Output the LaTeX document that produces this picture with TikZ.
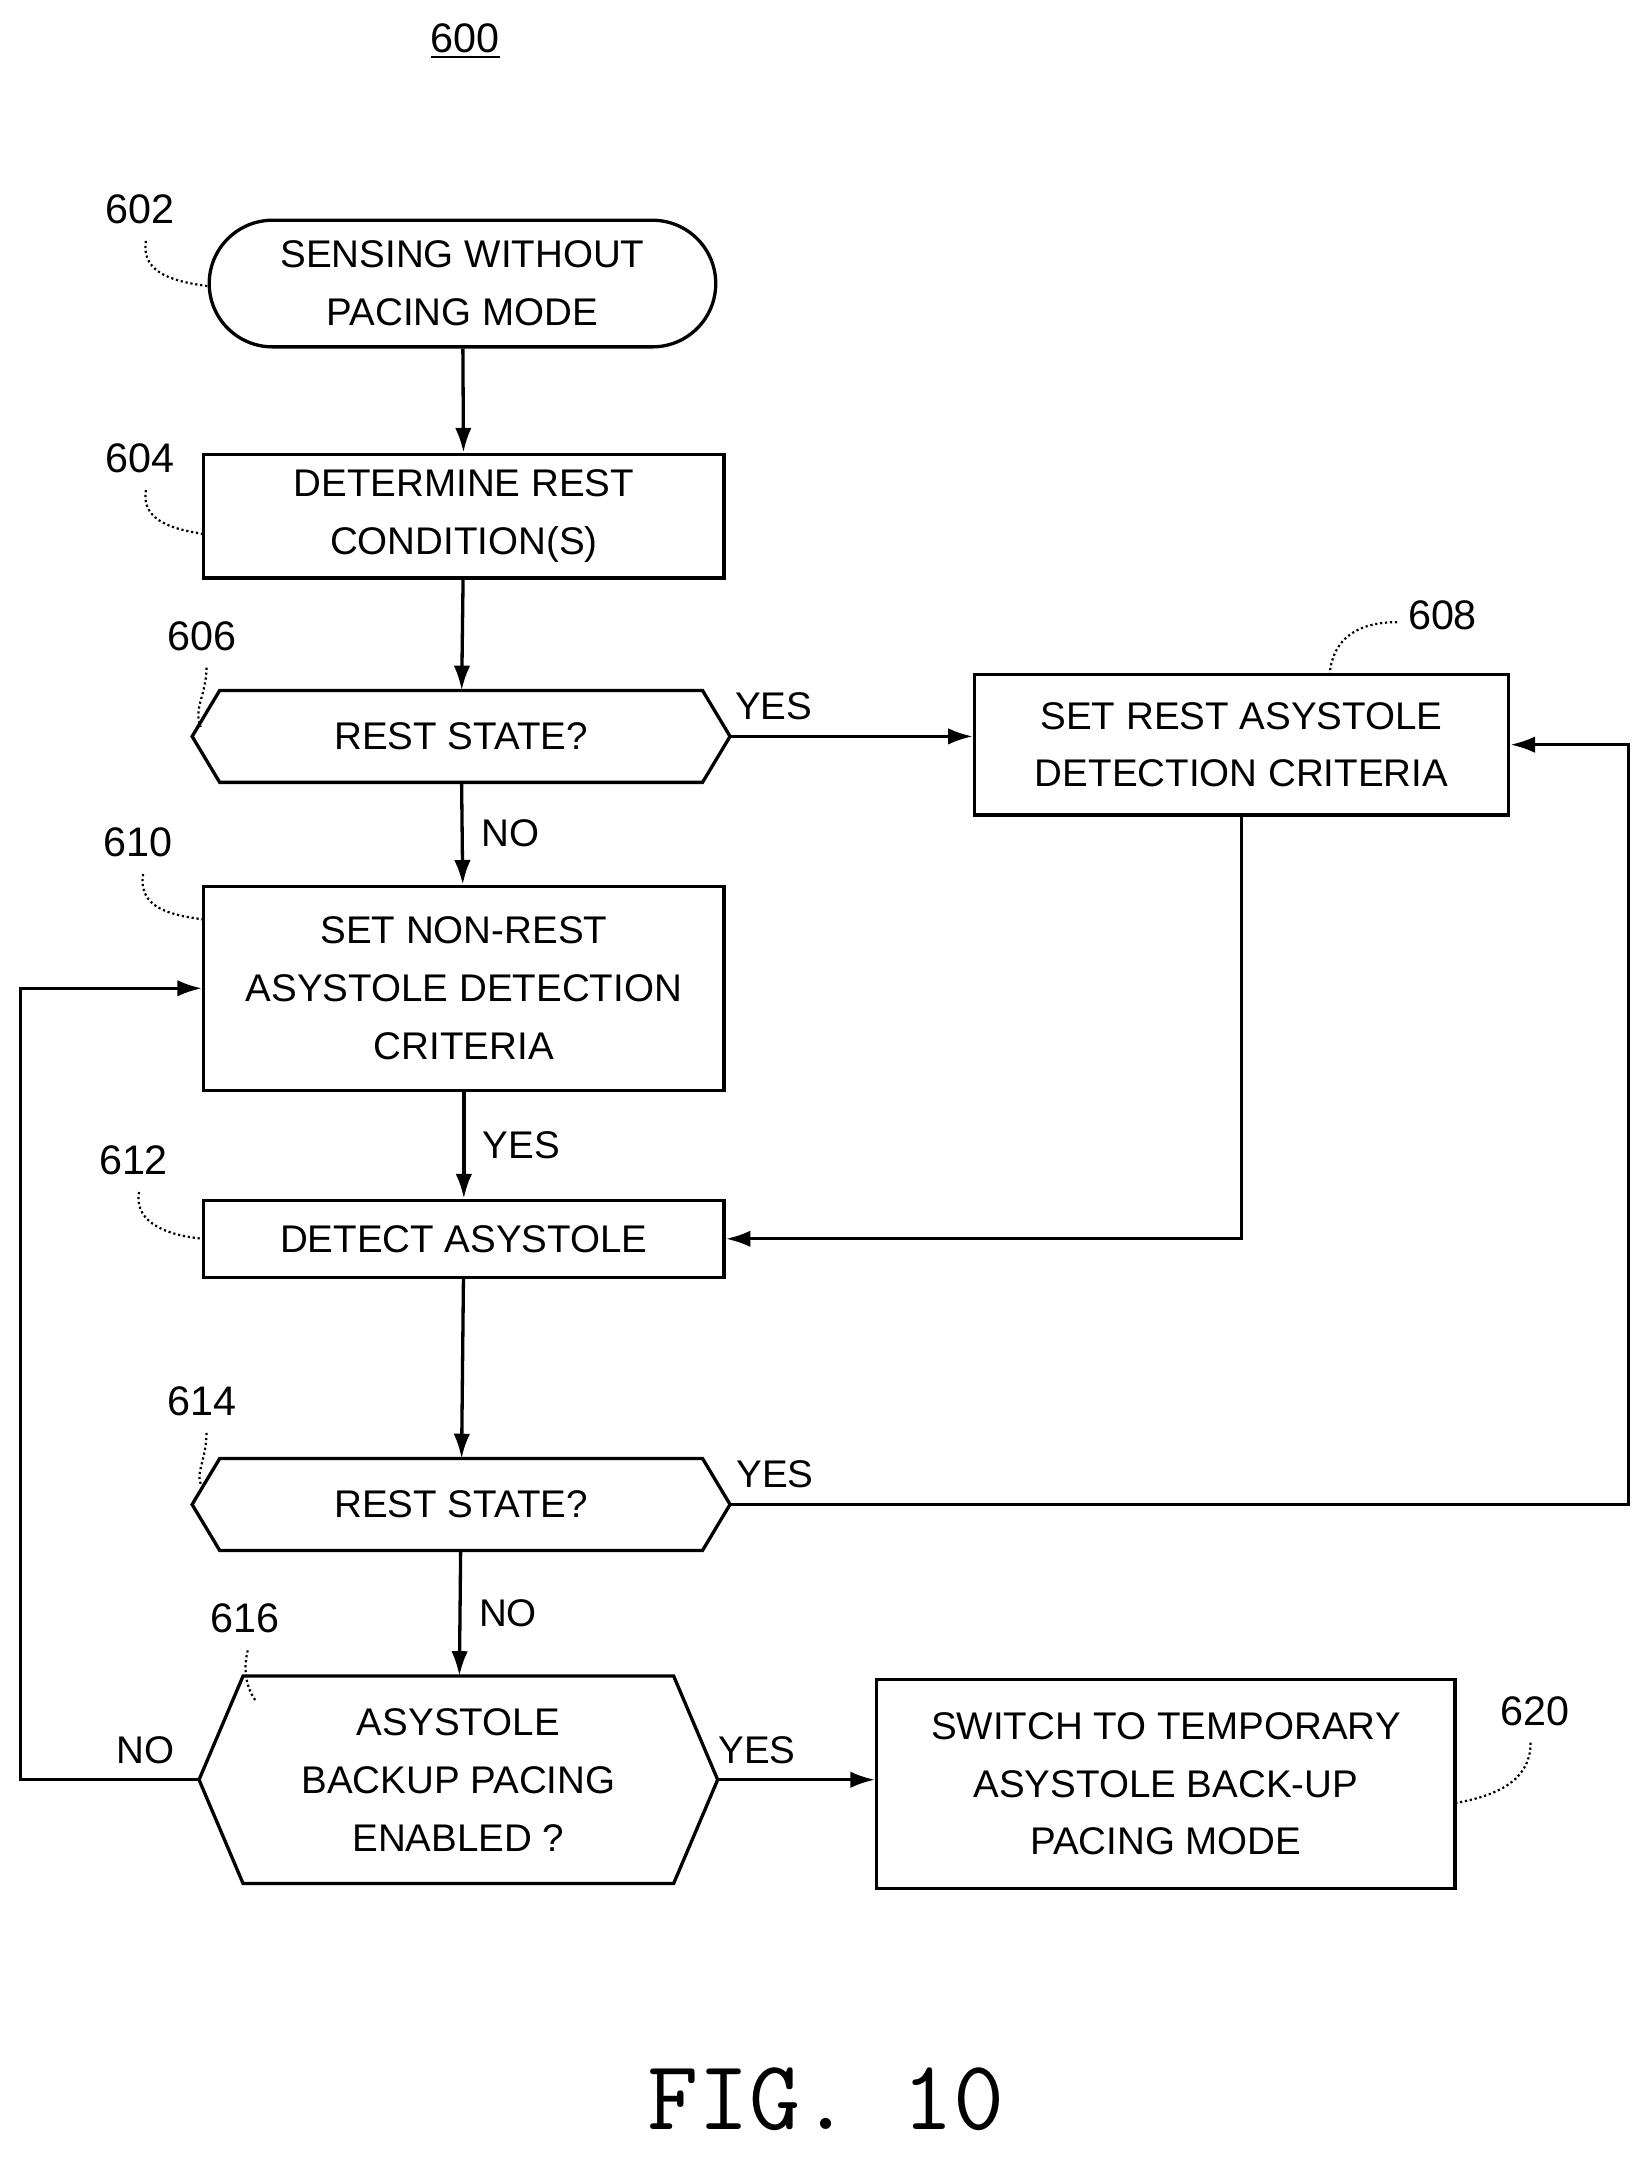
\documentclass[tikz,border=0pt]{standalone}
\usepackage{fontspec}
\setmainfont{Liberation Sans}
\usetikzlibrary{positioning}

\tikzset{
  box/.style={draw, line width=1.2pt, rectangle, align=center, inner sep=0pt},
  term/.style={box, rounded corners=23pt},
  hexa/.style={rectangle, align=center, inner sep=0pt},
  lbl/.style={font=\fontsize{15}{18}\selectfont},
  arr/.style={-{Latex[length=9pt,width=6pt]}, line width=1.2pt},
  lead/.style={line width=0.8pt, densely dotted}
}
\usetikzlibrary{arrows.meta}
\newcommand{\hexout}[2]{% node, point size
  \draw[line width=1.2pt] (#1.west) -- ([xshift=#2]#1.north west) -- ([xshift=-#2]#1.north east)
    -- (#1.east) -- ([xshift=-#2]#1.south east) -- ([xshift=#2]#1.south west) -- cycle;}

\begin{document}
\begin{tikzpicture}[x=0.5pt,y=-0.5pt,font=\fontsize{14}{21}\selectfont]
\useasboundingbox (0,0) rectangle (1200,1570);

% title
\node[lbl] (fig) at (338,30) {\underline{600}};

% Shapes
\node[term, minimum width=184pt, minimum height=46pt] (sense) at (336,206) {SENSING WITHOUT\\PACING MODE};
\node[box, minimum width=189pt, minimum height=45pt] (rest) at (337,375) {DETERMINE REST\\CONDITION(S)};
\node[hexa, minimum width=195pt, minimum height=33pt] (qa) at (335,535) {REST STATE?};
\node[box, minimum width=194pt, minimum height=51pt] (setrest) at (902,541) {SET REST ASYSTOLE\\DETECTION CRITERIA};
\node[box, minimum width=189pt, minimum height=74pt] (nonrest) at (337,718) {SET NON-REST\\ASYSTOLE DETECTION\\CRITERIA};
\node[box, minimum width=189pt, minimum height=28pt] (detect) at (337,900) {DETECT ASYSTOLE};
\node[hexa, minimum width=195pt, minimum height=33pt] (qb) at (335,1093) {REST STATE?};
\node[hexa, minimum width=188pt, minimum height=75pt] (backup) at (333,1293) {ASYSTOLE\\BACKUP PACING\\ENABLED ?};
\node[box, minimum width=210pt, minimum height=76pt] (switch) at (847,1296) {SWITCH TO TEMPORARY\\ASYSTOLE BACK-UP\\PACING MODE};
\hexout{qa}{10pt}
\hexout{qb}{10pt}
\hexout{backup}{16pt}

% Connectors
\draw[arr] (sense) -- (rest);
\draw[arr] (rest) -- (qa);
\draw[arr] (qa.east) -- node[pos=0.18, above, yshift=2pt] {YES} (qa.east -| setrest.west);
\draw[arr] (qa) -- node[right, xshift=3pt] {NO} (nonrest);
\draw[arr] (nonrest) -- node[right, xshift=3pt] {YES} (detect);
\draw[arr] (setrest.south) |- (detect.east);
\draw[arr] (detect) -- (qb);
\coordinate (rt) at (1183,1093);
\draw[arr] (qb.east) -- node[pos=0.05, above, yshift=2pt] {YES} (rt) |- (setrest.east);
\draw[arr] (qb) -- node[right, xshift=3pt] {NO} (backup);
\draw[arr] (backup.east) -- node[pos=0.25, above, yshift=2pt] {YES} (backup.east -| switch.west);
\coordinate (lt) at (15,1293);
\draw[arr] (backup.west) -- node[pos=0.3, above, yshift=2pt] {NO} (lt) |- (nonrest.west);

% Reference labels
\node[lbl] (n602) at (102,152) {602};
\node[lbl] (n604) at (102,333) {604};
\node[lbl] (n606) at (147,462) {606};
\node[lbl] (n608) at (1048,447) {608};
\node[lbl] (n610) at (100,612) {610};
\node[lbl] (n612) at (97,843) {612};
\node[lbl] (n614) at (147,1018) {614};
\node[lbl] (n616) at (178,1176) {616};
\node[lbl] (n620) at (1115,1243) {620};
\draw[lead] (106,175) .. controls (102,200) and (130,205) .. (152,208);
\draw[lead] (106,356) .. controls (102,380) and (130,385) .. (148,388);
\draw[lead] (150,485) .. controls (150,505) and (140,515) .. (146,528);
\draw[lead] (1015,452) .. controls (985,452) and (968,465) .. (966,490);
\draw[lead] (104,635) .. controls (100,660) and (125,665) .. (148,668);
\draw[lead] (101,866) .. controls (97,890) and (125,898) .. (148,900);
\draw[lead] (150,1041) .. controls (150,1062) and (140,1072) .. (148,1082);
\draw[lead] (180,1199) .. controls (176,1215) and (180,1228) .. (186,1236);
\draw[lead] (1112,1266) .. controls (1112,1295) and (1085,1305) .. (1057,1310);

\node[font=\fontsize{36}{40}\selectfont\ttfamily] (cap) at (600,1525) {FIG. 10};
\end{tikzpicture}
\end{document}
